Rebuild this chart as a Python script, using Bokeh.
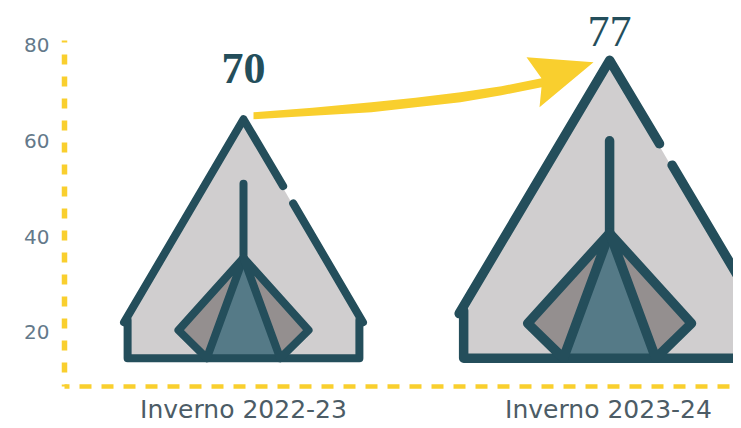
from bokeh.embed import file_html
from bokeh.resources import INLINE
from bokeh.plotting import figure
from bokeh.models import FixedTicker, Range1d, ColumnDataSource
from bokeh.core.properties import value

# ---- data ----
categories = ["Inverno 2022-23", "Inverno 2023-24"]
labels = [70, 77]
label_heights = [75.0, 82.8]
apex_values = [64.5, 76.8]
base_value = 14.6
half_widths = [0.324, 0.408]
centres = [0.0, 1.003]
stroke = [8.0, 9.5]
y_ticks = [20, 40, 60, 80]

# ---- styling ----
DARK = "#244e5b"
BODY = "#d0cecf"
SIDE = "#948f8f"
DOOR = "#557a87"
YELLOW = "#f9cf2e"
TICK = "#64798a"

W, H = 733, 420
LEFT, BOTTOM = 64, 34
PX_X = 365.0           # pixels per category step
PX_Y = 4.79            # pixels per value unit
x0 = -(243 - LEFT) / PX_X
y0 = 8.7

p = figure(width=W, height=H, output_backend="svg", toolbar_location=None,
           frame_width=W - LEFT, frame_height=H - BOTTOM,
           min_border_left=LEFT, min_border_bottom=BOTTOM, min_border_top=0, min_border_right=0,
           x_range=Range1d(x0, x0 + (W - LEFT) / PX_X),
           y_range=Range1d(y0, y0 + (H - BOTTOM) / PX_Y))
p.outline_line_color = None
p.background_fill_color = "white"
p.grid.visible = False


def pt(i, u, v):
    return centres[i] + u * half_widths[i], base_value + v * (apex_values[i] - base_value)


def path(i, pts):
    xy = [pt(i, u, v) for u, v in pts]
    return [a for a, _ in xy], [b for _, b in xy]


body, side, door, lines, lw = [], [], [], [], []
for i in range(2):
    body.append(path(i, [(0, 1), (0.98, 0.158), (0.98, 0), (-0.98, 0), (-0.98, 0.158)]))
    side.append(path(i, [(0, 0.42), (-0.55, 0.117), (-0.31, 0), (0.31, 0), (0.55, 0.117)]))
    door.append(path(i, [(0, 0.42), (-0.31, 0), (0.31, 0)]))
    for seg in (
        [(-1.01, 0.15), (0, 1), (0.335, 0.72)],
        [(0.42, 0.648), (1.01, 0.15)],
        [(-0.98, 0.16), (-0.98, 0), (0.98, 0), (0.98, 0.16)],
        [(0, 0.73), (0, 0.42)],
        [(-0.31, 0), (-0.55, 0.117), (0, 0.42), (-0.31, 0)],
        [(0.31, 0), (0.55, 0.117), (0, 0.42), (0.31, 0)],
    ):
        lines.append(path(i, seg))
        lw.append(stroke[i])

p.patches([b[0] for b in body], [b[1] for b in body], fill_color=BODY, line_color=None)
p.patches([b[0] for b in side], [b[1] for b in side], fill_color=SIDE, line_color=None)
p.patches([b[0] for b in door], [b[1] for b in door], fill_color=DOOR, line_color=None)
src = ColumnDataSource(dict(xs=[l[0] for l in lines], ys=[l[1] for l in lines], lw=lw))
p.multi_line("xs", "ys", source=src, line_color=DARK, line_width="lw",
             line_cap="round", line_join="round")

# arrow from one apex to the other, offsets in pixels from the first apex
arrow_top = [(10, -7), (69, -11.5), (128, -17), (172, -21.5), (217, -27), (258, -33), (298, -41)]
arrow_head = [(283, -62), (350, -57), (296, -12)]
arrow_bot = [(298, -32), (258, -24), (217, -17), (172, -12), (128, -7), (69, -3.5), (10, 0)]
outline = arrow_top + arrow_head + arrow_bot
p.patch([centres[0] + dx / PX_X for dx, _ in outline],
        [apex_values[0] - dy / PX_Y for _, dy in outline],
        fill_color=YELLOW, line_color=None)

# value labels above the tents
for i, style in enumerate(["bold", "normal"]):
    p.text(x=[centres[i]], y=[label_heights[i]], text=[str(labels[i])],
           text_font=value("Liberation Serif"), text_font_size={"value": "44px"},
           text_font_style=style,
           text_color=DARK, text_align="center", text_baseline="middle")

# axes
ax = p.yaxis[0]
ax.ticker = FixedTicker(ticks=y_ticks)
ax.bounds = (y0, 80.9)
ax.major_tick_line_color = None
ax.major_tick_out = 0
ax.major_tick_in = 0
ax.minor_tick_line_color = None
ax.minor_tick_out = 0
ax.axis_line_color = YELLOW
ax.axis_line_width = 5.5
ax.axis_line_dash = "10 12"
ax.axis_line_dash_offset = 8
ax.major_label_text_color = TICK
ax.major_label_text_font = "DejaVu Sans"
ax.major_label_text_font_size = "20px"
ax.major_label_standoff = 15

bx = p.xaxis[0]
bx.ticker = FixedTicker(ticks=[0, 1])
bx.major_label_overrides = {0: categories[0], 1: categories[1]}
bx.major_tick_line_color = None
bx.major_tick_out = 0
bx.major_tick_in = 0
bx.minor_tick_line_color = None
bx.minor_tick_out = 0
bx.axis_line_color = YELLOW
bx.axis_line_width = 4.5
bx.axis_line_dash = "12 10"
bx.axis_line_dash_offset = 7
bx.major_label_text_color = "#4c5c66"
bx.major_label_text_font = "DejaVu Sans"
bx.major_label_text_font_size = "25px"
bx.major_label_standoff = 8

open("out.html", "w").write(file_html(p, INLINE))
